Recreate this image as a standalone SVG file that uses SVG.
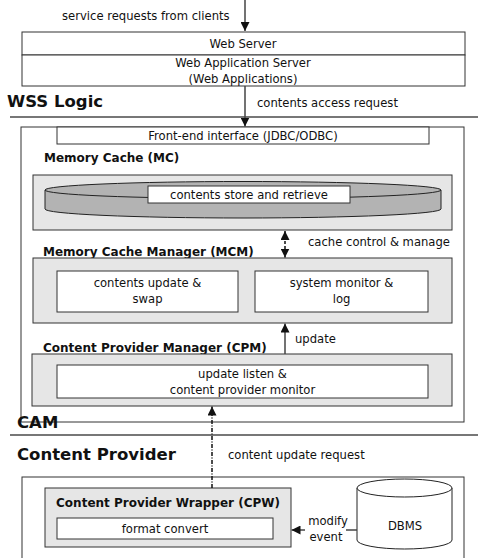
<svg xmlns="http://www.w3.org/2000/svg" width="478" height="558" viewBox="0 0 478 558">
<defs>
<style>
.t{font-family:"DejaVu Sans","Liberation Sans",sans-serif;font-size:11.6px;fill:#111}
.b{font-family:"DejaVu Sans","Liberation Sans",sans-serif;font-size:12px;font-weight:bold;fill:#111}
.h{font-family:"DejaVu Sans","Liberation Sans",sans-serif;font-size:16.5px;font-weight:bold;fill:#111}
.box{fill:#fff;stroke:#333;stroke-width:1}
.gbox{fill:#e6e6e6;stroke:#333;stroke-width:1}
.sep{stroke:#777;stroke-width:2}
.c{stroke:#444;stroke-width:1.5;fill:none}
.d{stroke:#111;stroke-width:1.5;fill:none;stroke-dasharray:3 2}
.dd{stroke:#111;stroke-width:1.5;fill:none;stroke-dasharray:4 1.5 1 1.5}
</style>
<marker id="ah" viewBox="0 0 10 10" refX="10" refY="5" markerWidth="6" markerHeight="6" markerUnits="strokeWidth" orient="auto-start-reverse">
<path d="M0,0 L10,5 L0,10 z" fill="#111"/>
</marker>
</defs>

<!-- separators -->
<line class="sep" x1="10" y1="117" x2="478" y2="117"/>
<line class="sep" x1="10" y1="435" x2="478" y2="435"/>

<g id="web-server">
<rect class="box" x="22" y="32" width="443" height="23"/>
<text class="t" x="243" y="47.5" text-anchor="middle">Web Server</text>
</g>
<g id="web-app-server">
<rect class="box" x="22" y="55" width="443" height="31"/>
<text class="t" x="243" y="67" text-anchor="middle">Web Application Server</text>
<text class="t" x="243" y="83" text-anchor="middle">(Web Applications)</text>
</g>
<g id="wss-logic">
<text class="h" x="7" y="107">WSS Logic</text>
</g>

<g id="cam">
<rect class="box" x="21" y="127" width="443" height="295"/>
</g>
<g id="front-end">
<rect class="box" x="57" y="127" width="372" height="17"/>
<text class="t" x="243" y="139.5" text-anchor="middle">Front-end interface (JDBC/ODBC)</text>
</g>

<g id="mc">
<text class="b" x="44" y="162">Memory Cache (MC)</text>
<rect class="gbox" x="33" y="175" width="419" height="55"/>
<path d="M45,190 L45,209 A198,9 0 0 0 441,209 L441,190" fill="#b3b3b3" stroke="#222" stroke-width="1"/>
<ellipse cx="243" cy="190" rx="198" ry="8.5" fill="#b3b3b3" stroke="#222" stroke-width="1"/>
<rect class="box" x="148" y="186" width="202" height="17"/>
<text class="t" x="249" y="199" text-anchor="middle">contents store and retrieve</text>
</g>

<g id="mcm">
<text class="b" x="43" y="256">Memory Cache Manager (MCM)</text>
<rect class="gbox" x="33" y="258" width="419" height="65"/>
<rect class="box" x="57" y="271" width="181" height="41"/>
<text class="t" x="147.5" y="287" text-anchor="middle">contents update &amp;</text>
<text class="t" x="147.5" y="303" text-anchor="middle">swap</text>
<rect class="box" x="255" y="271" width="173" height="41"/>
<text class="t" x="341.5" y="287" text-anchor="middle">system monitor &amp;</text>
<text class="t" x="341.5" y="303" text-anchor="middle">log</text>
</g>

<g id="cpm">
<text class="b" x="43" y="352">Content Provider Manager (CPM)</text>
<rect class="gbox" x="32" y="354" width="420" height="52"/>
<rect class="box" x="57" y="365" width="371" height="33"/>
<text class="t" x="242.5" y="377.5" text-anchor="middle">update listen &amp;</text>
<text class="t" x="242.5" y="394" text-anchor="middle">content provider monitor</text>
</g>

<g id="cam-label">
<text class="h" x="17" y="427.5">CAM</text>
</g>

<g id="content-provider">
<text class="h" x="17" y="460">Content Provider</text>
<rect class="box" x="22" y="477" width="442" height="100"/>
</g>

<g id="cpw">
<rect class="gbox" x="45" y="488" width="246" height="59"/>
<text class="b" x="168" y="506.5" text-anchor="middle">Content Provider Wrapper (CPW)</text>
<rect class="box" x="57" y="518" width="216" height="21"/>
<text class="t" x="165" y="533" text-anchor="middle">format convert</text>
</g>

<g id="dbms">
<path d="M357,488 L357,540 A47.5,9 0 0 0 452,540 L452,488" fill="#fff" stroke="#222" stroke-width="1"/>
<ellipse cx="404.5" cy="488" rx="47.5" ry="9" fill="#fff" stroke="#222" stroke-width="1"/>
<text class="t" x="405" y="529.5" text-anchor="middle">DBMS</text>
</g>

<g id="connectors">
<line class="c" x1="245" y1="0" x2="245" y2="31" marker-end="url(#ah)"/>
<text class="t" x="62" y="19.5">service requests from clients</text>
<line class="c" x1="245" y1="86" x2="245" y2="126.5" marker-end="url(#ah)"/>
<text class="t" x="257" y="107">contents access request</text>
<line class="d" x1="285" y1="231" x2="285" y2="257.5" marker-start="url(#ah)" marker-end="url(#ah)"/>
<text class="t" x="308" y="246">cache control &amp; manage</text>
<line class="c" x1="285" y1="354" x2="285" y2="323.5" marker-end="url(#ah)"/>
<text class="t" x="295" y="343">update</text>
<line class="dd" x1="212" y1="488" x2="212" y2="406.5" marker-end="url(#ah)"/>
<text class="t" x="228" y="459">content update request</text>
<line class="c" x1="357" y1="530" x2="346" y2="530"/>
<line class="c" x1="305" y1="530" x2="291.5" y2="530" marker-end="url(#ah)"/>
<text class="t" x="328" y="525" text-anchor="middle">modify</text>
<text class="t" x="326" y="541" text-anchor="middle">event</text>
</g>
</svg>
